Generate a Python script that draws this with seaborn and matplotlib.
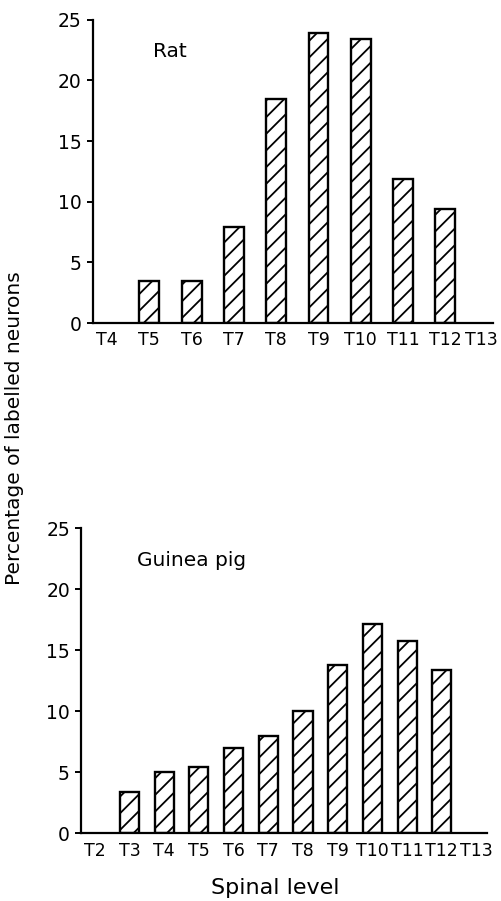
import matplotlib
matplotlib.use("Agg")
import matplotlib.pyplot as plt
import matplotlib.transforms as mtransforms
import seaborn as sns

# --------------------------------------------------------------
# Data
# --------------------------------------------------------------
rat_levels = ["T4", "T5", "T6", "T7", "T8", "T9", "T10", "T11", "T12", "T13"]
rat_pct = [0, 3.5, 3.45, 7.95, 18.5, 23.95, 23.45, 11.9, 9.4, 0]

gp_levels = ["T2", "T3", "T4", "T5", "T6", "T7", "T8", "T9", "T10", "T11", "T12", "T13"]
gp_pct = [0, 3.4, 5.0, 5.45, 7.0, 8.0, 10.0, 13.8, 17.15, 15.75, 13.4, 0]

y_ticks = [0, 5, 10, 15, 20, 25]

# --------------------------------------------------------------
# Style
# --------------------------------------------------------------
sns.set_style("ticks")
plt.rcParams["font.family"] = ["DejaVu Sans"]
plt.rcParams["text.color"] = "black"
plt.rcParams["xtick.color"] = "black"
plt.rcParams["ytick.color"] = "black"
plt.rcParams["axes.edgecolor"] = "black"
plt.rcParams["hatch.linewidth"] = 1.3
plt.rcParams["hatch.color"] = "black"


def draw_panel(ax, levels, pct, bar_width, label, label_x, xlim, last_shift):
    sns.barplot(x=levels, y=pct, order=levels, ax=ax, color="white",
                saturation=1, edgecolor="black", linewidth=1.7,
                width=bar_width, hatch="//")
    # empty levels: no bar outline on top of the axis line
    for patch in ax.patches:
        if patch.get_height() == 0:
            patch.set_visible(False)
    ax.set_ylim(0, 25)
    ax.set_xlim(*xlim)
    ax.set_yticks(y_ticks)
    ax.tick_params(axis="x", length=0, pad=6, labelsize=12.5)
    ax.tick_params(axis="y", length=4, width=1.4, pad=4, labelsize=13.5)
    for side in ["top", "right"]:
        ax.spines[side].set_visible(False)
    for side in ["left", "bottom"]:
        ax.spines[side].set_linewidth(1.6)
    ax.text(label_x, 22.4, label, ha="center", va="center", fontsize=14.5)
    ax.set_xlabel("")
    ax.set_ylabel("")
    # last tick label sits a little to the left, as in the original
    if last_shift:
        lab = ax.get_xticklabels()[-1]
        offset = mtransforms.ScaledTranslation(-last_shift / 100, 0, ax.figure.dpi_scale_trans)
        lab.set_transform(lab.get_transform() + offset)


fig = plt.figure(figsize=(5.01, 9.01), dpi=100)

ax_rat = fig.add_axes([0.1856, 0.6415, 0.798, 0.3365])
draw_panel(ax_rat, rat_levels, rat_pct, 0.47, "Rat", 1.49, (-0.33, 9.12), 6)

ax_gp = fig.add_axes([0.1617, 0.0751, 0.810, 0.3385])
draw_panel(ax_gp, gp_levels, gp_pct, 0.55, "Guinea pig", 2.8, (-0.40, 11.3), 0)

fig.text(0.028, 0.525, "Percentage of labelled neurons", rotation=90,
         ha="center", va="center", fontsize=14.5)
fig.text(0.549, 0.0144, "Spinal level", ha="center", va="center", fontsize=16)

fig.savefig("out.png", dpi=100, facecolor="white")
